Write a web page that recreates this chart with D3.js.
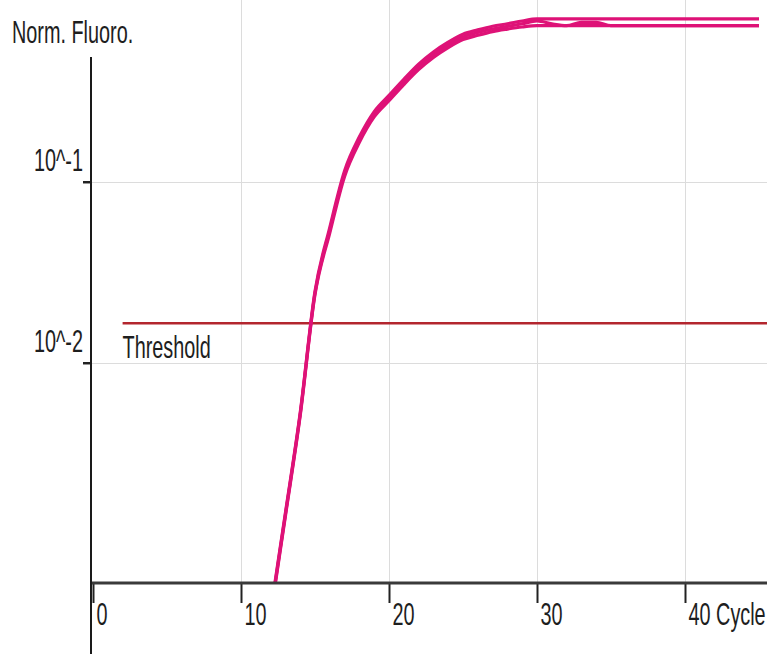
<!DOCTYPE html>
<html>
<head>
<meta charset="utf-8">
<script src="https://cdn.jsdelivr.net/npm/d3@7"></script>
<style>
  html, body { margin: 0; padding: 0; background: #fff; }
  svg { display: block; }
  text { font-family: "Liberation Sans", Arial, sans-serif; fill: #1e1e1e; }
</style>
</head>
<body>
<svg id="chart" width="767" height="654"></svg>
<script>
// Amplification curves (normalised fluorescence, log axis) per cycle
const cycles = d3.range(11, 46);

const seriesUpper = [0.00011, 0.00042, 0.00148, 0.0053, 0.0248, 0.056, 0.115, 0.177, 0.244, 0.300,
  0.368, 0.446, 0.521, 0.590, 0.653, 0.690, 0.723, 0.746, 0.773, 0.793,
  0.793, 0.793, 0.793, 0.793, 0.793, 0.793, 0.793, 0.793, 0.793, 0.793,
  0.793, 0.793, 0.793, 0.793, 0.793];

const seriesMiddle = [0.000105, 0.00041, 0.00145, 0.0052, 0.0243, 0.0541, 0.111, 0.171, 0.236, 0.290,
  0.356, 0.431, 0.504, 0.570, 0.631, 0.667, 0.698, 0.721, 0.746, 0.773,
  0.745, 0.728, 0.76, 0.76, 0.728, 0.728, 0.728, 0.728, 0.728, 0.728,
  0.728, 0.728, 0.728, 0.728, 0.728];

const seriesLower = [0.0001, 0.0004, 0.00142, 0.0051, 0.0238, 0.0522, 0.107, 0.165, 0.228, 0.280,
  0.344, 0.416, 0.486, 0.551, 0.610, 0.644, 0.675, 0.697, 0.716, 0.728,
  0.728, 0.728, 0.728, 0.728, 0.728, 0.728, 0.728, 0.728, 0.728, 0.728,
  0.728, 0.728, 0.728, 0.728, 0.728];

const thresholdValue = 0.0165;
const thresholdStartCycle = 2;

const xTickValues = [0, 10, 20, 30, 40];
const xTickLabels = ["0", "10", "20", "30", "40 Cycle"];
const yTickValues = [0.1, 0.01];
const yTickLabels = ["10^-1", "10^-2"];
const yTitle = "Norm. Fluoro.";
const thresholdLabel = "Threshold";

const W = 767, H = 654;
const axisX = 91, axisY = 583;
const textScale = 0.62;   // condensed lettering
const fontSize = 32;

const svg = d3.select("#chart");

const x = d3.scaleLinear().domain([0, 40]).range([93, 685]);
const y = d3.scaleLog().domain([Math.pow(10, -3.217), Math.pow(10, 0.004)]).range([axisY, 0]);

// clip region for the plotted data
svg.append("defs").append("clipPath").attr("id", "plot")
  .append("rect").attr("x", axisX).attr("y", 0).attr("width", W - axisX).attr("height", axisY);

// grid
const grid = svg.append("g").attr("stroke", "#dcdcdc").attr("stroke-width", 1);
grid.selectAll("line.v").data(xTickValues.slice(1)).join("line")
  .attr("x1", d => x(d) + 0.5).attr("x2", d => x(d) + 0.5)
  .attr("y1", 0).attr("y2", axisY);
grid.selectAll("line.h").data(yTickValues).join("line")
  .attr("x1", axisX).attr("x2", W)
  .attr("y1", d => Math.round(y(d)) + 0.5).attr("y2", d => Math.round(y(d)) + 0.5);

// threshold
svg.append("line")
  .attr("x1", x(thresholdStartCycle)).attr("x2", W)
  .attr("y1", y(thresholdValue)).attr("y2", y(thresholdValue))
  .attr("stroke", "#b3262e").attr("stroke-width", 2.5);

svg.append("text")
  .attr("transform", `translate(${x(thresholdStartCycle)},${y(thresholdValue) + 35}) scale(${textScale},1)`)
  .attr("font-size", fontSize)
  .text(thresholdLabel);

// curves
const line = d3.line()
  .x((d, i) => x(cycles[i]))
  .y(d => y(d))
  .curve(d3.curveMonotoneX);

const curves = svg.append("g").attr("clip-path", "url(#plot)");
[seriesLower, seriesMiddle, seriesUpper].forEach(s => {
  curves.append("path")
    .attr("d", line(s))
    .attr("fill", "none")
    .attr("stroke", "#de1277")
    .attr("stroke-width", 3.2)
    .attr("stroke-linejoin", "round");
});

// x axis
const xAxis = d3.axisBottom(x)
  .tickValues(xTickValues)
  .tickSize(20)
  .tickFormat((d, i) => xTickLabels[i]);

const gx = svg.append("g").attr("transform", `translate(0,${axisY})`).call(xAxis);
gx.select(".domain").remove();
gx.selectAll(".tick line").attr("stroke", "#222").attr("stroke-width", 2);
gx.selectAll(".tick text")
  .attr("text-anchor", "start")
  .attr("font-size", fontSize)
  .attr("y", 42).attr("dy", 0)
  .attr("transform", `translate(3,0) scale(${textScale},1)`)
  .attr("fill", "#1e1e1e");

gx.append("line")
  .attr("x1", axisX - 1).attr("x2", W).attr("y1", 0).attr("y2", 0)
  .attr("stroke", "#3a3a3a").attr("stroke-width", 3);

// y axis
const yAxis = d3.axisLeft(y)
  .tickValues(yTickValues)
  .tickSize(8)
  .tickFormat((d, i) => yTickLabels[i]);

const gy = svg.append("g").attr("transform", `translate(${axisX},0)`).call(yAxis);
gy.select(".domain").remove();
gy.selectAll(".tick line").attr("stroke", "#222").attr("stroke-width", 2.5);
gy.selectAll(".tick text")
  .attr("text-anchor", "end")
  .attr("font-size", fontSize)
  .attr("x", 0).attr("dy", 0).attr("y", -11)
  .attr("transform", `translate(-8,0) scale(${textScale},1)`)
  .attr("fill", "#1e1e1e");

gy.append("line")
  .attr("x1", 0).attr("x2", 0).attr("y1", 57).attr("y2", H)
  .attr("stroke", "#1a1a1a").attr("stroke-width", 2);

// y title
svg.append("text")
  .attr("transform", `translate(12,43) scale(${textScale},1)`)
  .attr("font-size", fontSize)
  .text(yTitle);
</script>
</body>
</html>
